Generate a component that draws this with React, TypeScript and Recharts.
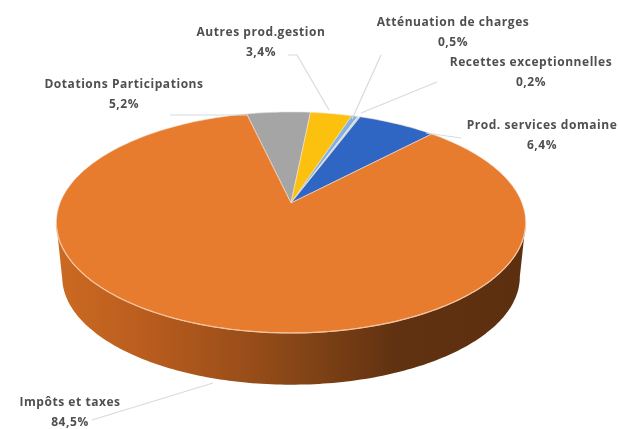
import { PieChart, Pie } from "recharts";

const categories = [
  "Dotations Participations",
  "Autres prod.gestion",
  "Atténuation de charges",
  "Recettes exceptionnelles",
  "Prod. services domaine",
  "Impôts et taxes",
];
const values = [5.2, 3.4, 0.5, 0.2, 6.4, 84.5];
const valueLabels = ["5,2%", "3,4%", "0,5%", "0,2%", "6,4%", "84,5%"];
const sliceColors = ["#a5a5a5", "#fcc10e", "#7fb2dd", "#cfe0f0", "#2f66c4", "#e87c2e"];

// label centres and leader lines, by slice
const labelPos = [
  [124, 84],
  [261, 32],
  [453, 22],
  [531, 62],
  [542, 125],
  [70, 402],
];
const leaders = [
  "M170,115 L247,115",
  "M288,55 L297,55 L329,110",
  "M381,55 L352,119",
  "M437,82 L361,113",
  "M461,138 L426,133",
  "M92,420 L213,383",
];

const data = categories.map((name, i) => ({ name, value: values[i], fill: sliceColors[i] }));

// perspective of the tilted disc
const K = 0.176; // far edge shrink
const SQUASH = 0.4636;
const DEPTH = 55;
const BOTTOM_SCALE = 0.975;
const RAD = Math.PI / 180;

function rim(cx: number, cy: number, r: number, deg: number, scale = 1, dy = 0) {
  const u = Math.sin(deg * RAD);
  const w = 1 + K * u;
  const x = cx + (scale * r * Math.cos(deg * RAD)) / w;
  const y = cy + dy - (scale * r * SQUASH * u) / w;
  return `${x.toFixed(1)},${y.toFixed(1)}`;
}

function Slice(props: any) {
  const { cx, cy, outerRadius: r, startAngle, endAngle, fill } = props;
  const top: string[] = [];
  const steps = Math.max(2, Math.ceil(Math.abs(startAngle - endAngle) / 1.5));
  for (let i = 0; i <= steps; i++) {
    top.push(rim(cx, cy, r, startAngle + ((endAngle - startAngle) * i) / steps));
  }
  // wall only along the front of the disc
  const widest = Math.asin(K) / RAD;
  const hi = Math.min(startAngle, -widest);
  const lo = Math.max(endAngle, -180 + widest);
  let wall = null;
  let edge = null;
  if (hi > lo) {
    const upper: string[] = [];
    const lower: string[] = [];
    for (let a = hi; a >= lo; a -= 1) {
      upper.push(rim(cx, cy, r, a));
      lower.unshift(rim(cx, cy, r, a, BOTTOM_SCALE, DEPTH));
    }
    wall = <path d={`M${upper.join(" L")} L${lower.join(" L")} Z`} fill="url(#wallShade)" />;
    edge = <path d={`M${upper.join(" L")}`} fill="none" stroke="#f6c39c" strokeWidth={1.2} />;
  }
  return (
    <g>
      {wall}
      <path
        d={`M${cx},${cy} L${top.join(" L")} Z`}
        fill={fill}
        stroke="#f3e3d6"
        strokeWidth={0.6}
        strokeLinejoin="round"
      />
      {edge}
    </g>
  );
}

function SliceLabel(props: any) {
  const i = props.index;
  const [x, y] = labelPos[i];
  return (
    <text
      x={x}
      textAnchor="middle"
      fontFamily="'Open Sans', sans-serif"
      fontWeight={700}
      fontSize={12}
      letterSpacing={0.55}
      fill="#4f4f4f"
      filter="url(#soft)"
    >
      <tspan x={x} y={y + 4}>{categories[i]}</tspan>
      <tspan x={x} y={y + 24}>{valueLabels[i]}</tspan>
    </text>
  );
}

function LeaderLine(props: any) {
  return <path d={leaders[props.index]} fill="none" stroke="#d6dbe0" strokeWidth={1.2} />;
}

export default function App() {
  return (
    <div style={{ position: "absolute", left: 0, top: 0, width: 618, height: 429, background: "#fff" }}>
      <PieChart width={618} height={429} margin={{ top: 0, right: 0, bottom: 0, left: 0 }}>
        <defs>
          <linearGradient id="wallShade" gradientUnits="userSpaceOnUse" x1="56" y1="0" x2="526" y2="0">
            <stop offset="0%" stopColor="#cc6a22" />
            <stop offset="20%" stopColor="#b85c1e" />
            <stop offset="40%" stopColor="#9a4e19" />
            <stop offset="55%" stopColor="#7f4215" />
            <stop offset="72%" stopColor="#613211" />
            <stop offset="100%" stopColor="#5c2f10" />
          </linearGradient>
          <filter id="soft" x="-10%" y="-20%" width="120%" height="140%">
            <feGaussianBlur stdDeviation="0.45" />
          </filter>
        </defs>
        <Pie
          data={data}
          dataKey="value"
          nameKey="name"
          cx={291}
          cy={203}
          innerRadius={0}
          outerRadius={231}
          startAngle={103}
          endAngle={-257}
          stroke="none"
          isAnimationActive={false}
          shape={Slice}
          activeShape={Slice}
          inactiveShape={Slice}
          label={SliceLabel}
          labelLine={LeaderLine}
        />
      </PieChart>
    </div>
  );
}
